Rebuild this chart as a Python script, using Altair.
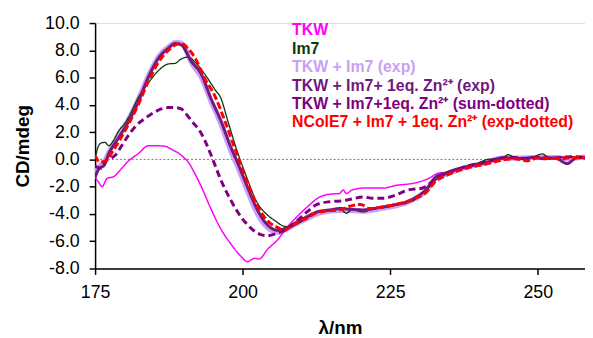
import altair as alt
import pandas as pd

names = [
    "TKW",
    "Im7",
    "TKW + Im7 (exp)",
    "TKW + Im7+ 1eq. Zn²⁺ (exp)",
    "TKW + Im7+1eq. Zn²⁺ (sum-dotted)",
    "NColE7 + Im7 + 1eq. Zn²⁺ (exp-dotted)",
]
colors = ["#FF00FF", "#0B3A0B", "#C9A0F5", "#6E1A80", "#800080", "#FF0000"]

# TKW (magenta)
t_nm = [175, 175.5, 176.2, 177, 178.2, 179, 180.7, 182.4, 184, 185.7, 187, 188.3, 189, 190, 190.8,
        191.6, 193, 194.6, 196.3, 198, 199.7, 200.8, 201.5, 202, 202.8, 204.2, 205.9, 207.5, 209.2,
        210.9, 213.1, 214.8, 216.4, 217, 217.6, 218.5, 220.5, 223.8, 226, 228.9, 231.5, 233.2, 234.4,
        236, 238.3, 241.1, 244, 247, 250, 253, 256, 258]
t_cd = [-1.3, -1.6, -2.0, -1.4, -1.25, -0.9, -0.1, 0.45, 1.0, 1.0, 0.95, 0.65, 0.5, 0.15, -0.2,
        -0.8, -2.0, -3.6, -5.1, -6.2, -7.1, -7.5, -7.35, -7.25, -7.3, -6.6, -5.9, -5.0, -4.2,
        -3.5, -2.75, -2.55, -2.5, -2.25, -2.5, -2.25, -2.1, -2.1, -1.9, -1.75, -1.4, -1.0, -0.95,
        -0.75, -0.45, -0.2, 0.15, 0.1, 0.15, 0.15, 0.2, 0.2]

# Im7 (dark green)
g_nm = [175, 175.5, 176, 176.7, 177.3, 178, 179, 180, 180.7, 182.4, 184, 185.7, 187.4, 188.6, 189.5,
        190.8, 192, 193.5, 194.6, 195.5, 196.2, 197.5, 199, 200.5, 202.5, 204, 205.5, 207, 208, 209.2,
        210.9, 212.6, 214.8, 216.5, 217.6, 218.5, 220.5, 222, 223.8, 226, 227.7, 229, 230, 231, 232.7,
        234.4, 236, 238.3, 240, 241.5, 243, 244, 245, 246, 247.5, 249, 250.8, 252, 254, 256, 258]
g_cd = [0.1, 0.9, 1.2, 1.25, 1.0, 1.3, 2.1, 2.6, 3.1, 4.6, 5.6, 6.5, 7.0, 7.05, 7.35,
        7.5, 7.1, 6.3, 5.6, 5.0, 4.6, 2.8, 0.7, -1.1, -3.2, -4.0, -4.5, -4.9, -4.95, -4.75,
        -4.3, -3.9, -3.75, -3.65, -3.95, -3.7, -3.85, -3.6, -3.55, -3.35, -3.15, -3.0, -2.6, -2.3, -1.5,
        -1.1, -0.75, -0.5, -0.25, 0.0, 0.05, 0.1, 0.35, 0.15, 0.05, 0.15, 0.4, 0.1, 0.15, 0.2, 0.15]

# TKW + Im7 (exp) (lavender)
l_nm = [175, 175.7, 176.5, 177.3, 179, 180.7, 182.4, 184, 185.7, 187.4, 188.8, 189.8, 191.3, 193,
        194.6, 196.3, 198, 199.2, 200.8, 202.5, 204.2, 206, 207.5, 209.2, 210.9, 212.6, 214.8, 216.5,
        218, 220.5, 223.5, 226, 227.7, 229.3, 231, 232.7, 234.4, 236, 238.3, 241.1, 244, 247, 250,
        253, 255, 258]
l_cd = [-1.0, -0.5, -0.2, 0.5, 1.8, 3.0, 4.5, 6.1, 7.5, 8.25, 8.6, 8.45, 7.1, 6.0,
        4.3, 2.6, 0.6, -0.6, -2.3, -4.0, -5.0, -5.35, -5.1, -4.7, -4.35, -4.0, -3.8, -3.75,
        -3.75, -3.8, -3.6, -3.4, -3.2, -2.85, -2.35, -1.4, -1.1, -0.85, -0.55, -0.25, 0.1, 0.1, 0.15,
        0.15, 0.05, 0.2]

# TKW + Im7 + 1eq Zn (exp) (purple solid)
p_nm = [175, 175.7, 176.5, 177.3, 179, 180.7, 182.4, 184, 185.7, 187.4, 188.6, 189.6, 191.3, 193,
        194.6, 196.3, 198, 199.2, 200.8, 202.5, 204.2, 206, 207.5, 209.2, 210.9, 212.6, 214.8, 216.5,
        218, 220.5, 223.5, 226, 227.7, 229.3, 231, 232.7, 234.4, 236, 238.3, 241.1, 244, 246, 247.3,
        249.5, 251, 252.9, 255, 256.5, 258]
p_cd = [-1.3, -0.65, -0.45, 0.4, 1.6, 2.8, 4.3, 6.0, 7.4, 8.15, 8.5, 8.4, 7.2, 6.25,
        4.5, 2.85, 0.9, -0.3, -2.0, -3.7, -4.8, -5.2, -5.0, -4.6, -4.2, -3.85, -3.7, -3.6,
        -3.65, -3.7, -3.5, -3.3, -3.15, -2.8, -2.25, -1.3, -1.0, -0.75, -0.5, -0.25, 0.1, 0.1, 0.07,
        0.15, 0.05, 0.1, -0.3, 0.1, 0.15]

# TKW + Im7 + 1eq Zn (sum-dotted) (purple dashed)
s_nm = [175, 175.5, 176, 176.8, 177.5, 178.5, 179.5, 180.7, 182, 183.6, 185, 186.2, 187.4, 188.6,
        189.6, 190.5, 191.3, 193, 194, 195, 196.3, 198, 199.7, 201.3, 203, 204.2, 205.9, 207.5, 209.2,
        210.9, 212.6, 214.8, 216.5, 218, 220.5, 222, 223.8, 226, 228, 230.5, 232.2, 233.2, 234.4, 236,
        238.3, 241.1, 244, 246, 248, 250, 252, 254, 256, 258]
s_cd = [-0.5, -0.6, -0.65, -0.1, 0.05, 0.35, 1.0, 1.8, 2.5, 3.05, 3.45, 3.7, 3.8, 3.8,
        3.7, 3.3, 2.85, 1.9, 1.0, -0.07, -1.5, -3.0, -4.2, -5.0, -5.5, -5.6, -5.4, -5.1, -4.5,
        -3.85, -3.3, -3.1, -3.05, -2.95, -2.75, -2.85, -2.85, -2.6, -2.25, -2.1, -1.6, -1.3, -1.05, -0.8,
        -0.45, -0.2, 0.1, 0.15, 0.05, 0.15, 0.1, 0.15, 0.2, 0.15]

# NColE7 + Im7 + 1eq Zn (exp-dotted) (red dashed)
r_nm = [175, 175.8, 176.8, 178, 179, 180.7, 182.4, 184, 185.7, 187.4, 188.6, 189.6, 190.8, 192,
        193.5, 195.3, 197, 199, 200.8, 202.5, 204.2, 206, 207, 208.2, 209.2, 210.9, 212.6, 214.8,
        216.5, 218, 220, 221.5, 223.5, 226, 227.7, 229.3, 231, 232.7, 234.4, 236, 238.3, 241.1, 244,
        246, 248.3, 250, 252, 254, 256, 258]
r_cd = [0.3, -0.2, -0.1, 0.6, 1.3, 2.6, 4.1, 5.7, 7.1, 8.0, 8.4, 8.5, 8.1, 7.4,
        6.0, 4.65, 2.8, 0.4, -1.7, -3.4, -4.5, -5.0, -5.2, -4.9, -4.65, -4.3, -3.9, -3.75,
        -3.7, -3.45, -3.3, -3.6, -3.5, -3.3, -3.1, -2.85, -2.45, -1.6, -1.2, -0.9, -0.6, -0.35, -0.05,
        0.05, -0.1, 0.1, 0.1, 0.05, 0.15, 0.1]

series_data = [(t_nm, t_cd), (g_nm, g_cd), (l_nm, l_cd), (p_nm, p_cd), (s_nm, s_cd), (r_nm, r_cd)]
widths = [1.5, 1.3, 5, 3, 3, 3]
dashes = [[1, 0], [1, 0], [1, 0], [1, 0], [7, 4], [7, 3]]
draw_order = [2, 0, 1, 3, 4, 5]

FONT = "Liberation Sans"
color_scale = alt.Scale(domain=names, range=colors)
x_scale = alt.Scale(domain=[175, 258], nice=False, zero=False)
y_scale = alt.Scale(domain=[-8, 10], nice=False, zero=False)

x_axis = alt.Axis(values=[175, 200, 225, 250], format="d", title="λ/nm", grid=False,
                  labelFlush=False, labelOverlap=False,
                  labelFontSize=18, titleFontSize=19, titleFontWeight="bold",
                  tickSize=6, tickWidth=1.5, domainWidth=1.5, domainColor="black",
                  tickColor="black", labelColor="black", titleColor="black",
                  labelPadding=9, titlePadding=18, labelFont=FONT, titleFont=FONT)
y_axis = alt.Axis(values=[-8, -6, -4, -2, 0, 2, 4, 6, 8, 10], title="CD/mdeg", grid=False,
                  labelExpr="datum.value < 0 ? '-' + format(abs(datum.value), '.1f') : format(datum.value, '.1f')",
                  labelFlush=False, labelOverlap=False,
                  labelFontSize=18, titleFontSize=19, titleFontWeight="bold",
                  tickSize=6, tickWidth=1.5, domainWidth=1.5, domainColor="black",
                  tickColor="black", labelColor="black", titleColor="black",
                  labelPadding=10, titlePadding=12, labelFont=FONT, titleFont=FONT)

zero = alt.Chart(pd.DataFrame({"v": [0]})).mark_rule(
    color="#777777", strokeWidth=1, strokeDash=[2, 2]
).encode(
    y=alt.Y("v:Q", scale=y_scale, axis=y_axis),
)

layers = [zero]
for i in draw_order:
    nm, cd = series_data[i]
    df = pd.DataFrame({"nm": nm, "cd": cd, "series": names[i]})
    layers.append(
        alt.Chart(df).mark_line(strokeWidth=widths[i], strokeDash=dashes[i],
                                interpolate="monotone", clip=True).encode(
            x=alt.X("nm:Q", scale=x_scale, axis=x_axis),
            y=alt.Y("cd:Q", scale=y_scale, axis=y_axis),
            color=alt.Color("series:N", scale=color_scale, legend=None),
        )
    )

lines = alt.layer(*layers)

leg_df = pd.DataFrame({"series": names, "idx": list(range(len(names)))})
legend = alt.Chart(leg_df).mark_text(
    align="left", baseline="middle", fontSize=16, fontWeight="bold", font=FONT
).encode(
    x=alt.value(199),
    y=alt.Y("idx:Q", scale=alt.Scale(domain=[0, 5], range=[7.5, 100.5]), axis=None),
    text="series:N",
    color=alt.Color("series:N", scale=color_scale, legend=None),
)

chart = alt.layer(lines, legend).resolve_scale(y="independent").properties(
    width=495, height=248,
    autosize=alt.AutoSizeParams(type="none"),
    padding={"left": 88, "top": 13.5, "right": 0, "bottom": 68.5},
).configure_view(stroke=None).configure(font=FONT)

chart.save("out.html", embed_options={"renderer": "svg", "actions": False})
